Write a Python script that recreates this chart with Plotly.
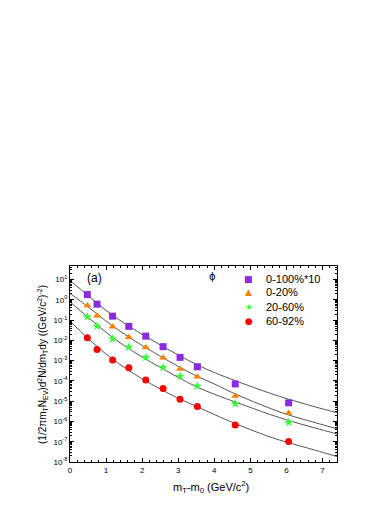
import plotly.graph_objects as go

# measured points (phi spectra)
x_pts = [0.48, 0.75, 1.18, 1.63, 2.10, 2.58, 3.05, 3.53, 4.58, 6.06]
y_0_100 = [1.82, 0.61, 0.157, 0.049, 0.0162, 0.0049, 0.00145, 5.0e-4, 7.1e-5, 8.3e-6]
y_0_20 = [0.52, 0.162, 0.047, 0.0141, 0.0044, 0.00138, 3.9e-4, 1.62e-4, 1.82e-5, 2.6e-6]
y_20_60 = [0.145, 0.050, 0.012, 0.0047, 0.00145, 4.7e-4, 1.7e-4, 5.6e-5, 7.6e-6, 8.9e-7]
y_60_92 = [0.0135, 0.0036, 0.00107, 4.5e-4, 1.12e-4, 4.2e-5, 1.26e-5, 5.4e-6, 6.6e-7, 1.02e-7]

# fit curves
x_fit = [0, 0.5, 1.0, 1.5, 2.0, 2.5, 3.0, 3.5, 4.0, 4.6, 5.55, 6.06, 6.8, 7.4]
fit_0_100 = [8.9, 1.66, 0.30, 0.071, 0.020, 6.0e-3, 1.9e-3, 6.6e-4, 2.6e-4, 1.0e-4, 2.45e-5, 1.26e-5, 5.2e-6, 2.75e-6]
fit_0_20 = [2.1, 0.45, 0.089, 0.021, 5.6e-3, 1.66e-3, 5.2e-4, 1.78e-4, 7.1e-5, 2.2e-5, 4.4e-6, 2.1e-6, 8.7e-7, 4.4e-7]
fit_20_60 = [0.79, 0.14, 0.025, 5.6e-3, 1.5e-3, 4.7e-4, 1.5e-4, 5.2e-5, 2.2e-5, 8.9e-6, 2.2e-6, 1.12e-6, 4.7e-7, 2.45e-7]
fit_60_92 = [0.089, 0.0126, 2.1e-3, 4.7e-4, 1.26e-4, 4.0e-5, 1.4e-5, 5.6e-6, 2.2e-6, 7.6e-7, 1.7e-7, 8.9e-8, 3.8e-8, 1.86e-8]

y_tickvals = [1e1, 1e0, 1e-1, 1e-2, 1e-3, 1e-4, 1e-5, 1e-6, 1e-7, 1e-8]
y_ticktext = ["10<sup>1</sup>", "10<sup>0</sup>", "10<sup>-1</sup>", "10<sup>-2</sup>", "10<sup>-3</sup>",
              "10<sup>-4</sup>", "10<sup>-5</sup>", "10<sup>-6</sup>", "10<sup>-7</sup>", "10<sup>-8</sup>"]

labels = ["0-100%*10", "0-20%", "20-60%", "60-92%"]
colors = ["#8A2BE2", "#FF7F00", "#33FF33", "#FF0000"]
symbols = ["square", "triangle-up", "star", "circle"]
glyphs = ["■", "▲", "★", "●"]
series = [y_0_100, y_0_20, y_20_60, y_60_92]
fits = [fit_0_100, fit_0_20, fit_20_60, fit_60_92]

FONT = "Liberation Sans, Arial"

fig = go.Figure()
for f in fits:
    fig.add_trace(go.Scatter(x=x_fit, y=f, mode="lines", line=dict(color="#555555", width=1, shape="spline"),
                             showlegend=False, hoverinfo="skip"))
for lab, ys, c, s in zip(labels, series, colors, symbols):
    fig.add_trace(go.Scatter(x=x_pts, y=ys, mode="markers", name=lab, showlegend=False,
                             marker=dict(color=c, symbol=s, size=7, line=dict(width=0))))

axis_common = dict(showline=True, linecolor="black", linewidth=1, mirror="ticks", ticks="inside",
                   tickcolor="black", showgrid=False, zeroline=False, automargin=False,
                   tickfont=dict(family=FONT, size=8, color="black"))

fig.update_xaxes(range=[0, 7.4], dtick=1, ticklen=4,
                 minor=dict(dtick=0.2, ticks="inside", ticklen=2, tickcolor="black"),
                 **axis_common)
fig.update_yaxes(type="log", range=[-8, 1.67], tickvals=y_tickvals, ticktext=y_ticktext, ticklen=4,
                 minor=dict(ticks="inside", ticklen=2, tickcolor="black", dtick="D1"),
                 **axis_common)

# axis titles as annotations so they sit where the reference has them
fig.add_annotation(x=0.528, y=-0.128, xref="paper", yref="paper",
                   text="m<sub>T</sub>-m<sub>0</sub> (GeV/c<sup>2</sup>)", showarrow=False,
                   xanchor="center", yanchor="middle", font=dict(family=FONT, size=11, color="black"))
fig.add_annotation(x=-0.105, y=0.5, xref="paper", yref="paper", textangle=-90,
                   text="(1/2πm<sub>T</sub>N<sub>EV</sub>)d<sup>2</sup>N/dm<sub>T</sub>dy ((GeV/c<sup>2</sup>)<sup>-2</sup>)",
                   showarrow=False, xanchor="center", yanchor="middle",
                   font=dict(family=FONT, size=10, color="black"))

fig.add_annotation(x=0.09, y=0.985, xref="paper", yref="paper", text="(a)", showarrow=False,
                   xanchor="center", yanchor="top", font=dict(family=FONT, size=12, color="black"))
fig.add_annotation(x=0.535, y=0.985, xref="paper", yref="paper", text="ϕ", showarrow=False,
                   xanchor="center", yanchor="top", font=dict(family="DejaVu Sans", size=10, color="black"))

# legend drawn by hand to keep the tight row spacing
leg_y = [0.936, 0.865, 0.791, 0.720]
for lab, c, g, ly in zip(labels, colors, glyphs, leg_y):
    fig.add_annotation(x=0.670, y=ly, xref="paper", yref="paper", text=g, showarrow=False,
                       xanchor="center", yanchor="middle",
                       font=dict(family="DejaVu Sans", size=9, color=c))
    fig.add_annotation(x=0.728, y=ly, xref="paper", yref="paper", text=lab, showarrow=False,
                       xanchor="left", yanchor="middle",
                       font=dict(family=FONT, size=11, color="black"))

# page body adds 8px around the figure, so the figure is sized to fit inside the window
fig.update_layout(
    width=376, height=492,
    margin=dict(l=62, r=47, t=258, b=38),
    paper_bgcolor="white", plot_bgcolor="white",
    showlegend=False,
)

fig.write_html("out.html")
